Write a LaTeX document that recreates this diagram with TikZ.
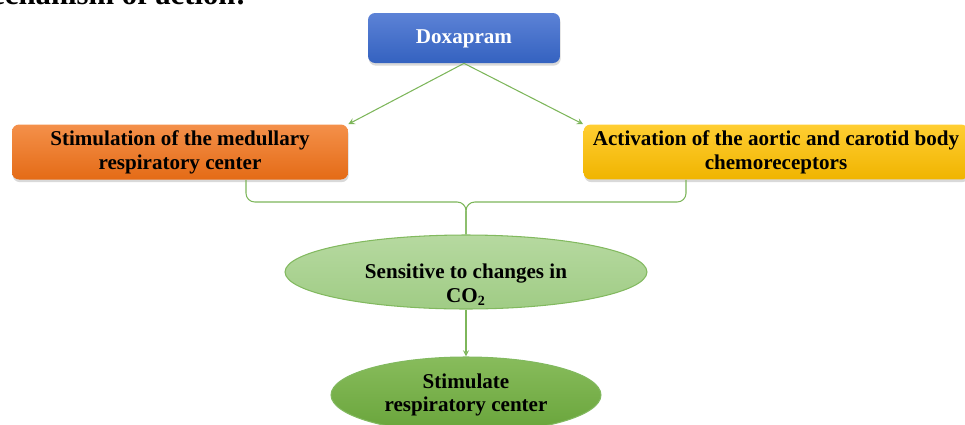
\documentclass[tikz,border=0pt]{standalone}
\usepackage{fontspec}
\setmainfont{Liberation Serif}
\usetikzlibrary{shapes.geometric, arrows, shadows}
\definecolor{linkgreen}{HTML}{7DB65A}
\tikzstyle{drug} = [rectangle, rounded corners=4pt, minimum width=3.84cm, minimum height=1cm, text centered, text=white, top color={rgb,255:red,92;green,130;blue,214}, bottom color={rgb,255:red,52;green,98;blue,192}, drop shadow={opacity=0.3, shadow xshift=0.4pt, shadow yshift=-1.5pt}]
\tikzstyle{effect} = [rectangle, rounded corners=4pt, minimum height=1.04cm, align=center, drop shadow={opacity=0.3, shadow xshift=0.4pt, shadow yshift=-1.5pt}]
\tikzstyle{result} = [ellipse, inner sep=0pt, align=center, draw={rgb,255:red,130;green,185;blue,95}, line width=0.6pt]
\tikzstyle{link} = [draw=linkgreen, line width=0.6pt]
\tikzstyle{arrow} = [link, ->, >=stealth]

\begin{document}
\begin{tikzpicture}[x=0.02cm, y=-0.02cm, font=\fontsize{12}{13.6}\selectfont\bfseries]
\useasboundingbox (0,0) rectangle (965,424);
\clip (0,0) rectangle (965,424);

\node at (252, 4) (title) [anchor=base east, font=\fontsize{17.5}{20}\selectfont\bfseries] {Mechanism of action:};

\node at (464, 38) (doxa) [drug, text depth=2pt] {Doxapram};

\node at (180, 152) (stim) [effect, minimum width=6.72cm, top color={rgb,255:red,244;green,144;blue,74}, bottom color={rgb,255:red,228;green,107;blue,22}] {Stimulation of the medullary\\respiratory center};
\node at (776, 152) (act) [effect, minimum width=7.7cm, top color={rgb,255:red,255;green,206;blue,50}, bottom color={rgb,255:red,240;green,180;blue,0}] {Activation of the aortic and carotid body\\chemoreceptors};

\node at (466, 272) (sens) [result, minimum width=7.24cm, minimum height=1.48cm, top color={rgb,255:red,182;green,217;blue,160}, bottom color={rgb,255:red,160;green,204;blue,133}, label={[name=senstext, align=center, yshift=-0.25cm]center:Sensitive to changes in\\CO\textsubscript{2}}] {};
\node at (466, 395) (resp) [result, minimum width=5.4cm, minimum height=1.52cm, top color={rgb,255:red,136;green,188;blue,92}, bottom color={rgb,255:red,104;green,164;blue,58}] {Stimulate\\respiratory center};

\coordinate (brace) at (466, 202);

\draw [arrow] (doxa.south) -- (stim.north east);
\draw [arrow] (doxa.south) -- (act.north west);
\draw [link, rounded corners=5pt] ([xshift=1.32cm]stim.south) |- (brace) -- (sens.north);
\draw [link, rounded corners=5pt] ([xshift=-1.8cm]act.south) |- (brace) -- (sens.north);
\draw [arrow] (sens.south) -- (resp.north);

\end{tikzpicture}
\end{document}
